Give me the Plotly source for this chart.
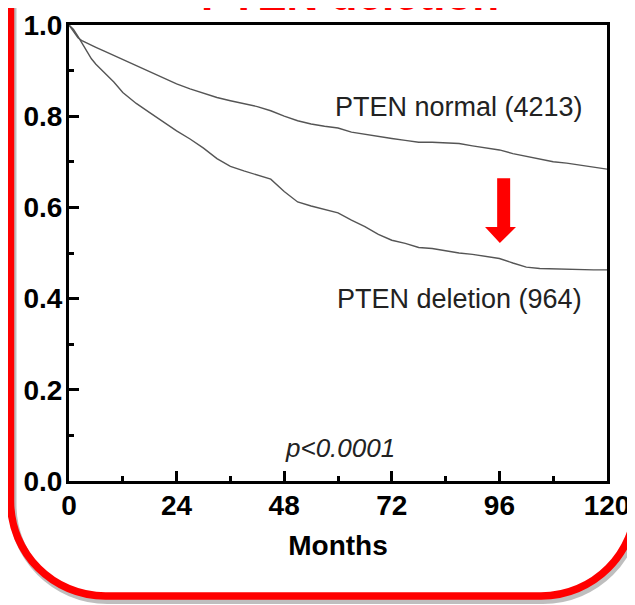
import plotly.graph_objects as go

# ---------------- data ----------------
months = [0, 1, 2, 3, 4, 6, 8, 10, 12, 15, 18, 21, 24, 27, 30, 33, 36, 39, 42, 45,
          48, 51, 54, 57, 60, 63, 66, 69, 72, 75, 78, 81, 84, 87, 90, 93, 96, 99,
          102, 105, 108, 111, 114, 117, 120]
pten_normal = [1.0, 0.985, 0.972, 0.965, 0.960, 0.951, 0.942, 0.933, 0.925, 0.912,
               0.897, 0.884, 0.871, 0.860, 0.850, 0.841, 0.834, 0.827, 0.821, 0.812,
               0.800, 0.790, 0.783, 0.778, 0.774, 0.765, 0.760, 0.755, 0.751, 0.747,
               0.743, 0.743, 0.742, 0.740, 0.735, 0.730, 0.726, 0.718, 0.712, 0.705,
               0.700, 0.697, 0.693, 0.688, 0.684]
months_del = [0, 1, 2, 3, 4, 5, 6, 8, 10, 12, 15, 18, 21, 24, 27, 30, 33, 36, 39, 42,
              45, 48, 51, 54, 57, 60, 63, 66, 69, 72, 75, 78, 81, 84, 87, 90, 93, 96,
              99, 102, 105, 108, 111, 114, 117, 120]
pten_deletion = [1.0, 0.990, 0.975, 0.958, 0.940, 0.926, 0.914, 0.894, 0.875, 0.852,
                 0.828, 0.808, 0.787, 0.768, 0.750, 0.730, 0.707, 0.690, 0.680, 0.671,
                 0.662, 0.635, 0.612, 0.603, 0.595, 0.588, 0.572, 0.558, 0.541, 0.528,
                 0.521, 0.512, 0.510, 0.505, 0.500, 0.497, 0.493, 0.488, 0.478, 0.469,
                 0.466, 0.465, 0.465, 0.464, 0.463, 0.463]
x_ticks = [0, 24, 48, 72, 96, 120]
y_ticks = [0.0, 0.2, 0.4, 0.6, 0.8, 1.0]
y_ticklabels = ["0.0", "0.2", "0.4", "0.6", "0.8", "1.0"]
label_normal = "PTEN normal (4213)"
label_deletion = "PTEN deletion (964)"
p_text = "<i>p<0.0001</i>"
title_text = "PTEN deletion"
x_title = "Months"

# ---------------- layout geometry (pixels) ----------------
# the page body adds an 8px margin, so the figure is 8px smaller and shifted
OFF = 8
W, H = 635 - OFF, 605 - OFF
L_M, T_M = 69 - OFF, 25 - OFF
R_M, B_M = 28, 124
PW = W - L_M - R_M
PH = H - T_M - B_M


def fx(px):  # reference-image pixel -> paper fraction
    return (px - 69) / PW


def fy(py):
    return (481 - py) / PH


def rounded_path(left, right, bottom, top, r, dx=0, dy=0):
    k = 0.5523
    pts = lambda x, y: f"{fx(x + dx):.5f},{fy(y + dy):.5f}"
    return (f"M {pts(left, top)} L {pts(left, bottom - r)} "
            f"C {pts(left, bottom - r + k * r)} {pts(left + r - k * r, bottom)} {pts(left + r, bottom)} "
            f"L {pts(right - r, bottom)} "
            f"C {pts(right - r + k * r, bottom)} {pts(right, bottom - r + k * r)} {pts(right, bottom - r)} "
            f"L {pts(right, top)}")


FONT = "Liberation Sans, Arial, sans-serif"
line_col = "#555555"

fig = go.Figure()
fig.add_trace(go.Scatter(x=months, y=pten_normal, mode="lines",
                         line=dict(color=line_col, width=1.4), showlegend=False))
fig.add_trace(go.Scatter(x=months_del, y=pten_deletion, mode="lines",
                         line=dict(color=line_col, width=1.4), showlegend=False))

shapes = [
    dict(type="path", xref="paper", yref="paper",
         path=rounded_path(10.5, 636, 596, -30, 95, dx=2, dy=4),
         line=dict(color="rgba(110,110,110,0.45)", width=8), layer="below"),
    dict(type="path", xref="paper", yref="paper",
         path=rounded_path(10.5, 636, 596, -30, 95),
         line=dict(color="#ff0000", width=7.5), layer="above"),
    # red arrow
    dict(type="path", xref="x", yref="y",
         path="M 95.5,0.664 L 98.4,0.664 L 98.4,0.557 L 99.7,0.557 L 96.1,0.522 "
              "L 92.8,0.557 L 95.5,0.557 Z",
         fillcolor="#ff0000", line=dict(color="#ff0000", width=0)),
]

annotations = [
    dict(x=87.0, y=0.82, xref="x", yref="y", text=label_normal, showarrow=False,
         font=dict(family=FONT, size=27, color="#222222")),
    dict(x=87.2, y=0.399, xref="x", yref="y", text=label_deletion, showarrow=False,
         font=dict(family=FONT, size=27, color="#222222")),
    dict(x=60.4, y=0.072, xref="x", yref="y", text=p_text, showarrow=False,
         font=dict(family=FONT, size=26, color="#222222")),
    dict(x=fx(350), y=fy(21), xref="paper", yref="paper", text=f"<b>{title_text}</b>",
         showarrow=False, yanchor="bottom", xanchor="center",
         font=dict(family=FONT, size=44, color="#ff0000")),
]

fig.update_layout(
    width=W, height=H,
    margin=dict(l=L_M, r=R_M, t=T_M, b=B_M, pad=0, autoexpand=False),
    paper_bgcolor="white", plot_bgcolor="white",
    shapes=shapes, annotations=annotations,
    showlegend=False,
)
fig.update_xaxes(
    range=[0, 120], tickvals=x_ticks, ticktext=[str(v) for v in x_ticks],
    showgrid=False, zeroline=False, automargin=False,
    showline=True, linecolor="black", linewidth=3, mirror=True,
    ticks="inside", ticklen=10, tickwidth=3, tickcolor="black",
    minor=dict(ticks="inside", ticklen=5, tickwidth=3, tickcolor="black", dtick=12, tick0=0),
    tickfont=dict(family=FONT, size=28, color="black", weight="bold"),
    ticklabelstandoff=-3,
    title=dict(text=x_title, standoff=16,
               font=dict(family=FONT, size=28, color="black", weight="bold")),
)
fig.update_yaxes(
    range=[0, 1], tickvals=y_ticks, ticktext=y_ticklabels,
    showgrid=False, zeroline=False, automargin=False,
    showline=True, linecolor="black", linewidth=3, mirror=True,
    ticks="inside", ticklen=10, tickwidth=3, tickcolor="black",
    minor=dict(ticks="inside", ticklen=5, tickwidth=3, tickcolor="black", dtick=0.1, tick0=0),
    tickfont=dict(family=FONT, size=28, color="black", weight="bold"),
    ticklabelstandoff=-2,
)

fig.write_html("out.html")
